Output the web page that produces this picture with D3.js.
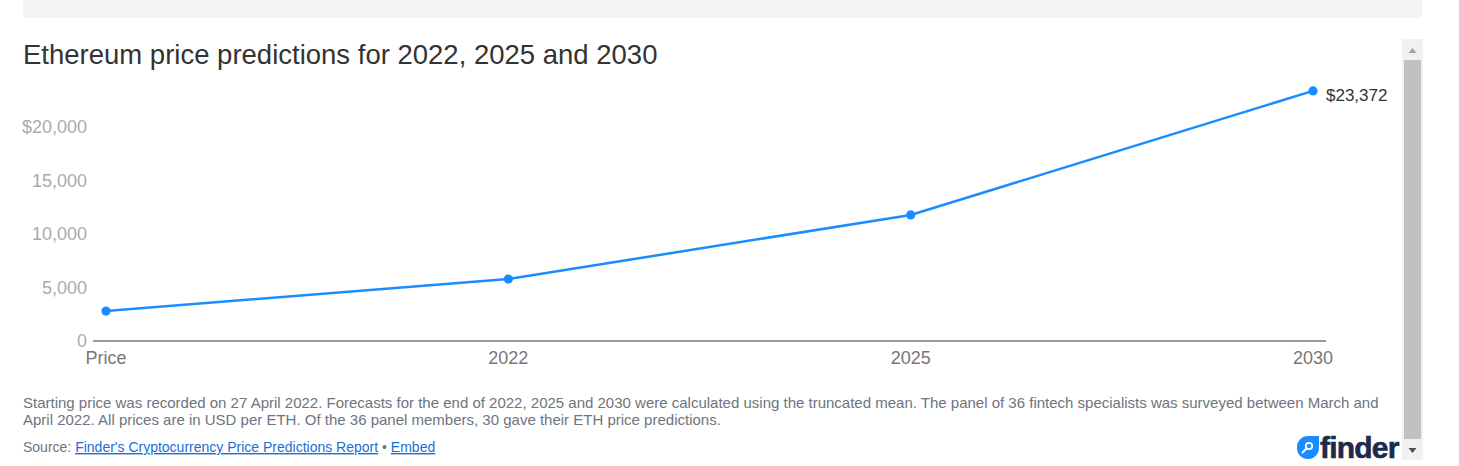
<!DOCTYPE html>
<html>
<head>
<meta charset="utf-8">
<script src="https://cdn.jsdelivr.net/npm/d3@7"></script>
<style>
  html, body { margin: 0; padding: 0; background: #fff; overflow: hidden; }
  svg { display: block; font-family: 'Liberation Sans', Arial, sans-serif; }
</style>
</head>
<body>
<svg id="chart" width="1459" height="466"></svg>
<script>
// chart data
const categories = ['Price', '2022', '2025', '2030'];
const prices = [2800, 5790, 11780, 23372];
const yTicks = [0, 5000, 10000, 15000, 20000];
const footnoteLines = [
  'Starting price was recorded on 27 April 2022. Forecasts for the end of 2022, 2025 and 2030 were calculated using the truncated mean. The panel of 36 fintech specialists was surveyed between March and',
  'April 2022. All prices are in USD per ETH. Of the 36 panel members, 30 gave their ETH price predictions.'
];

const svg = d3.select('#chart');

// grey strip at the top of the embed
svg.append('path')
  .attr('d', 'M23,0 H1422 V15 Q1422,18 1419,18 H26 Q23,18 23,15 Z')
  .attr('fill', '#f3f4f6');

svg.append('text')
  .attr('x', 23).attr('y', 64)
  .attr('font-size', 27.5).attr('fill', '#333')
  .text('Ethereum price predictions for 2022, 2025 and 2030');

const x = d3.scalePoint().domain(categories).range([106, 1313]);
const y = d3.scaleLinear().domain([0, 20000]).range([341, 127]);

// y axis labels
const yAxis = svg.append('g');
yAxis.selectAll('text').data(yTicks).enter().append('text')
  .attr('x', 87).attr('y', d => y(d)).attr('dy', '0.36em')
  .attr('text-anchor', 'end')
  .attr('font-size', 18).attr('fill', '#ababab')
  .text(d => (d === 20000 ? '$' : '') + d3.format(',')(d));

// baseline
svg.append('line')
  .attr('x1', 93).attr('x2', 1326)
  .attr('y1', y(0)).attr('y2', y(0))
  .attr('stroke', '#333').attr('stroke-width', 1);

// x axis labels
svg.append('g').selectAll('text').data(categories).enter().append('text')
  .attr('x', d => x(d)).attr('y', 364)
  .attr('text-anchor', 'middle')
  .attr('font-size', 18).attr('fill', '#777')
  .text(d => d);

const pts = categories.map((c, i) => ({ c, v: prices[i] }));

svg.append('path').datum(pts)
  .attr('d', d3.line().x(d => x(d.c)).y(d => y(d.v)))
  .attr('fill', 'none').attr('stroke', '#1a8cff').attr('stroke-width', 2.5);

svg.append('g').selectAll('circle').data(pts).enter().append('circle')
  .attr('cx', d => x(d.c)).attr('cy', d => y(d.v)).attr('r', 4.6)
  .attr('fill', '#1a8cff');

// end label
const last = pts[pts.length - 1];
svg.append('text')
  .attr('x', x(last.c) + 13).attr('y', y(last.v) + 4).attr('dy', '0.36em')
  .attr('font-size', 17).attr('fill', '#333')
  .text('$' + d3.format(',')(last.v));

// footnote
svg.append('g').selectAll('text').data(footnoteLines).enter().append('text')
  .attr('x', 23).attr('y', (d, i) => 408 + i * 17)
  .attr('font-size', 15).attr('fill', '#6e7480')
  .text(d => d);

const src = svg.append('text').attr('x', 23).attr('y', 452).attr('font-size', 14).attr('fill', '#6e7480');
src.append('tspan').text('Source: ');
src.append('tspan').attr('fill', '#1a6fd6').attr('text-decoration', 'underline')
  .text("Finder's Cryptocurrency Price Predictions Report");
src.append('tspan').text(' \u2022 ');
src.append('tspan').attr('fill', '#1a6fd6').attr('text-decoration', 'underline').text('Embed');

// finder logo
const logo = svg.append('g');
logo.append('path')
  .attr('d', 'M1297,447 A11,11 0 0 1 1308,436 H1319 V448 A11,11 0 0 1 1308,459 A11,11 0 0 1 1297,447 Z')
  .attr('fill', '#1a8cff');
logo.append('circle').attr('cx', 1309).attr('cy', 446).attr('r', 3.2)
  .attr('fill', 'none').attr('stroke', '#fff').attr('stroke-width', 1.8);
logo.append('line').attr('x1', 1306.5).attr('y1', 448.5).attr('x2', 1302.5).attr('y2', 452.5)
  .attr('stroke', '#fff').attr('stroke-width', 2).attr('stroke-linecap', 'round');
logo.append('text').attr('x', 1320).attr('y', 458)
  .attr('font-size', 30).attr('font-weight', 'bold').attr('fill', '#1c2b4b')
  .attr('stroke', '#1c2b4b').attr('stroke-width', 0.6)
  .attr('letter-spacing', -0.8)
  .text('finder');

// scrollbar
const sb = svg.append('g');
sb.append('rect').attr('x', 1402).attr('y', 39).attr('width', 21).attr('height', 421).attr('fill', '#f1f1f1');
sb.append('rect').attr('x', 1404).attr('y', 60).attr('width', 17).attr('height', 379).attr('fill', '#c1c1c1');
sb.append('path').attr('d', 'M1408.5,53 L1412.5,48 L1416.5,53 Z').attr('fill', '#a3a3a3');
sb.append('path').attr('d', 'M1408.5,448 L1412.5,453 L1416.5,448 Z').attr('fill', '#505050');
</script>
</body>
</html>
